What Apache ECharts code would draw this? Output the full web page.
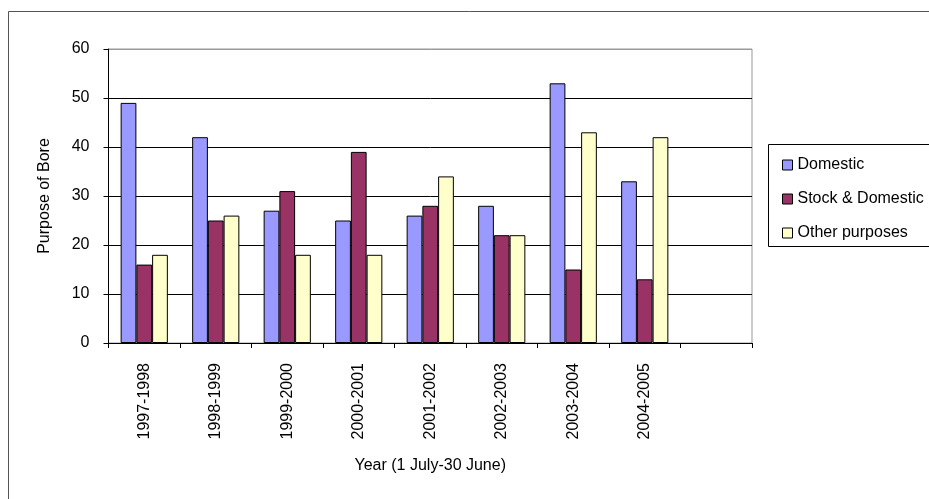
<!DOCTYPE html>
<html>
<head>
<meta charset="utf-8">
<script src="https://cdn.jsdelivr.net/npm/echarts@6/dist/echarts.min.js"></script>
<style>
  html, body { margin: 0; padding: 0; background: #fff; }
  #chart { width: 929px; height: 499px; }
</style>
</head>
<body>
<div id="chart"></div>
<script>
// Bore licences by purpose, per financial year
const years = ['1997-1998', '1998-1999', '1999-2000', '2000-2001', '2001-2002',
               '2002-2003', '2003-2004', '2004-2005', ''];
const domestic = [49, 42, 27, 25, 26, 28, 53, 33];
const stockDomestic = [16, 25, 31, 39, 28, 22, 15, 13];
const otherPurposes = [18, 26, 18, 18, 34, 22, 43, 42];
const yTicks = { min: 0, max: 60, interval: 10 };

const FONT = '"Liberation Sans", Arial, sans-serif';
const chart = echarts.init(document.getElementById('chart'));

function barSeries(name, data, color) {
  return {
    name: name,
    type: 'bar',
    data: data,
    barGap: '0%',
    barCategoryGap: '34%',
    itemStyle: { color: color, borderColor: '#000', borderWidth: 1 },
    emphasis: { disabled: true }
  };
}

chart.setOption({
  animation: false,
  backgroundColor: '#fff',
  textStyle: { fontFamily: FONT, color: '#000' },
  grid: {
    left: 108.5, right: 177, top: 49, bottom: 156,
    show: true, borderColor: '#999', borderWidth: 1, backgroundColor: '#fff'
  },
  legend: {
    orient: 'vertical',
    left: 777, top: 152,
    itemWidth: 10, itemHeight: 10, itemGap: 18, itemTextGap: 8,
    icon: 'rect',
    itemStyle: { borderColor: '#000', borderWidth: 1 },
    textStyle: { fontFamily: FONT, fontSize: 16, color: '#000' },
    selectedMode: false
  },
  xAxis: {
    type: 'category',
    data: years,
    boundaryGap: true,
    axisLine: { lineStyle: { color: '#000', width: 1 } },
    axisTick: { show: true, interval: 0, length: 5, lineStyle: { color: '#000' } },
    axisLabel: { interval: 0, rotate: 90, fontFamily: FONT, fontSize: 16, color: '#000', margin: 20 },
    name: 'Year (1 July-30 June)',
    nameLocation: 'middle',
    nameGap: 115,
    nameTextStyle: { fontFamily: FONT, fontSize: 16, color: '#000' },
    splitLine: { show: false }
  },
  yAxis: {
    type: 'value',
    min: yTicks.min, max: yTicks.max, interval: yTicks.interval,
    axisLine: { show: true, lineStyle: { color: '#000', width: 1 } },
    axisTick: { show: true, length: 5, lineStyle: { color: '#000' } },
    axisLabel: { fontFamily: FONT, fontSize: 16, color: '#000', margin: 19 },
    splitLine: {
      show: true,
      lineStyle: { color: ['#000', '#000', '#000', '#000', '#000', '#000', '#999'], width: 1 }
    },
    name: 'Purpose of Bore',
    nameLocation: 'middle',
    nameGap: 56,
    nameTextStyle: { fontFamily: FONT, fontSize: 16, color: '#000' }
  },
  graphic: [
    {
      type: 'rect',
      shape: { x: 8.5, y: 11.5, width: 1000, height: 1000 },
      style: { fill: 'none', stroke: '#555', lineWidth: 1 },
      silent: true, z: -1
    },
    {
      type: 'rect',
      shape: { x: 768.5, y: 144.5, width: 300, height: 102 },
      style: { fill: 'none', stroke: '#000', lineWidth: 1 },
      silent: true
    }
  ],
  series: [
    barSeries('Domestic', domestic, '#9999FF'),
    barSeries('Stock & Domestic', stockDomestic, '#993366'),
    barSeries('Other purposes', otherPurposes, '#FFFFCC')
  ]
});
</script>
</body>
</html>
